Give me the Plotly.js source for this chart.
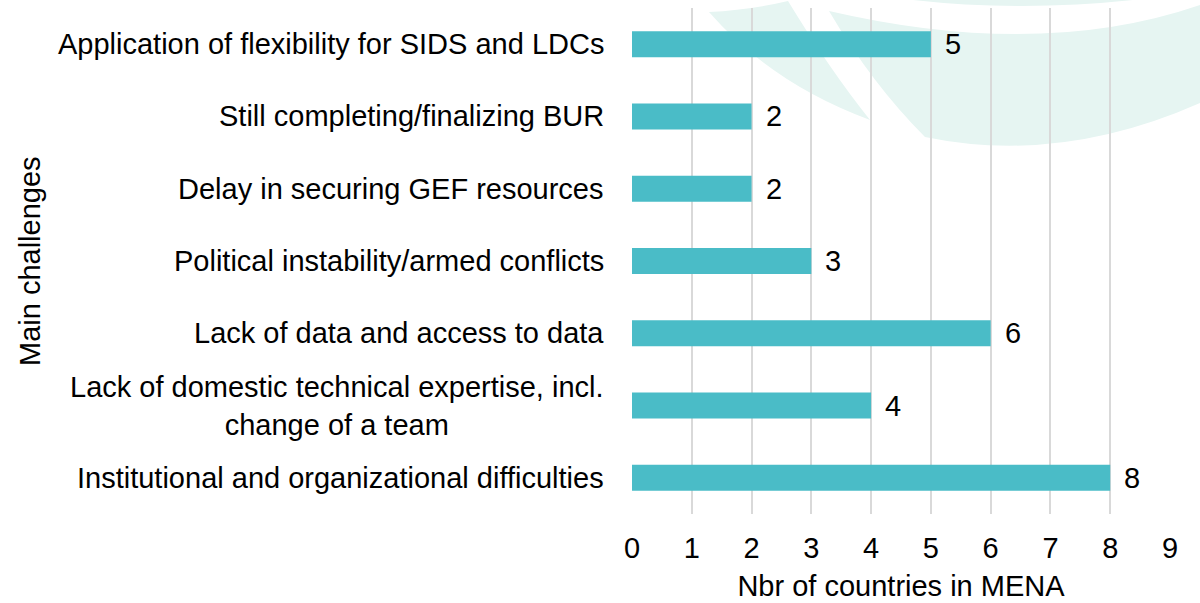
<!DOCTYPE html>
<html>
<head>
<meta charset="utf-8">
<script src="https://cdn.plot.ly/plotly-3.0.1.min.js"></script>
<style>html,body{margin:0;padding:0;background:#fff;}#chart{width:1200px;height:603px;}</style>
</head>
<body>
<div id="chart"></div>
<script>
// Data (top to bottom as shown)
const challenges = [
  "Application of flexibility for SIDS and LDCs",
  "Still completing/finalizing BUR",
  "Delay in securing GEF resources",
  "Political instability/armed conflicts",
  "Lack of data and access to data",
  "Lack of domestic technical expertise, incl.<br>change of a team",
  "Institutional and organizational difficulties"
];
const countries = [5, 2, 2, 3, 6, 4, 8];
const xTicks = [0, 1, 2, 3, 4, 5, 6, 7, 8, 9];

const FONT = "Liberation Sans, Arial, sans-serif";
const FS = 29;
const ML = 632, MR = 30, MT = 8, MB = 89, W = 1200, H = 603;
const PW = W - ML - MR, PH = H - MT - MB;
function P(x, y) { return ((x - ML) / PW).toFixed(4) + "," + ((H - MB - y) / PH).toFixed(4); }

const wmColor = "#e6f5f2";
const watermark = [
  "M" + P(709,12) + " Q" + P(772,84) + " " + P(870,120) + " Q" + P(830,70) + " " + P(788,1) + " Q" + P(750,10) + " " + P(709,12) + " Z",
  "M" + P(829,11) + " Q" + P(872,84) + " " + P(925,137) + " Q" + P(1060,165) + " " + P(1200,103) + " L" + P(1200,5) + " Q" + P(1040,60) + " " + P(829,11) + " Z",
  "M" + P(913,0) + " Q" + P(1020,12) + " " + P(1133,0) + " Z"
].map(p => ({type: "path", xref: "paper", yref: "paper", path: p, fillcolor: wmColor, line: {width: 0}, layer: "below"}));

const trace = {
  type: "bar",
  orientation: "h",
  x: countries,
  y: challenges,
  marker: {color: "#4abcc7"},
  hoverinfo: "x+y"
};

const annotations = [];
challenges.forEach((c, i) => {
  annotations.push({
    x: 0, xref: "paper", y: c, yref: "y",
    text: c, showarrow: false, xanchor: "right", align: "center",
    xshift: -26, font: {family: FONT, size: FS, color: "#000"}
  });
  annotations.push({
    x: countries[i], xref: "x", y: c, yref: "y",
    text: String(countries[i]), showarrow: false, xanchor: "left",
    xshift: 12, font: {family: FONT, size: FS, color: "#000"}
  });
});
annotations.push({
  x: (30 - ML) / PW, xref: "paper", y: 0.5, yref: "paper",
  xanchor: "center", yanchor: "middle",
  text: "Main challenges", showarrow: false, textangle: -90,
  font: {family: FONT, size: FS, color: "#000"}
});

const layout = {
  width: W, height: H,
  margin: {l: ML, r: MR, t: MT, b: MB, pad: 0},
  paper_bgcolor: "#fff", plot_bgcolor: "rgba(0,0,0,0)",
  font: {family: FONT, size: FS, color: "#000"},
  showlegend: false,
  bargap: 0.64,
  xaxis: {
    range: [0, 9], tickvals: xTicks, ticktext: xTicks.map(String),
    showgrid: true, gridcolor: "#d9d9d9", gridwidth: 2,
    zeroline: false, showline: false, ticks: "",
    ticklabelstandoff: 14,
    tickfont: {family: FONT, size: FS, color: "#000"},
    title: {text: "Nbr of countries in MENA", font: {family: FONT, size: FS, color: "#000"}, standoff: 12},
    fixedrange: true
  },
  yaxis: {
    type: "category", autorange: "reversed",
    showticklabels: false, showgrid: false, zeroline: false, showline: false, ticks: "",
    fixedrange: true
  },
  shapes: watermark,
  annotations: annotations
};

Plotly.newPlot("chart", [trace], layout, {displayModeBar: false, staticPlot: true});
</script>
</body>
</html>
